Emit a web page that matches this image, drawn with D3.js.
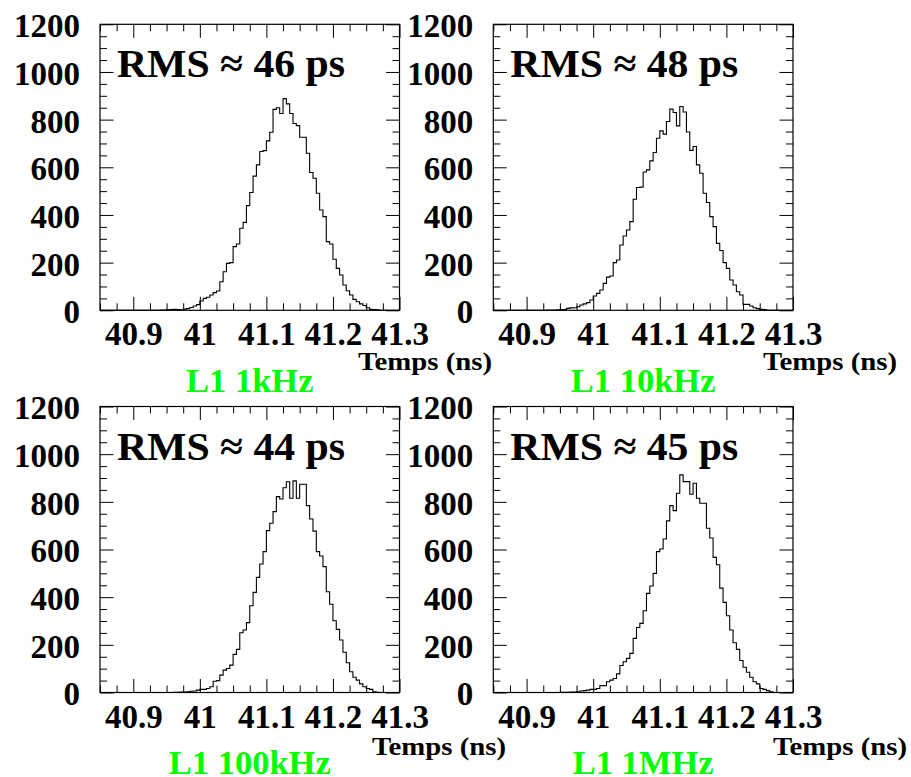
<!DOCTYPE html>
<html>
<head>
<meta charset="utf-8">
<script src="https://cdn.jsdelivr.net/npm/d3@7"></script>
<style>
  html, body { margin: 0; padding: 0; background: #fff; }
  svg { display: block; }
</style>
</head>
<body>
<script>
// ---------------- DATA ----------------
const binStart = 40.85;       // ns, lower edge of first bin
const binWidth = 0.005;       // ns
const xDomain = [40.85, 41.3];
const yDomain = [0, 1200];
const xMajorTicks = [40.9, 41.0, 41.1, 41.2, 41.3];
const yMajorTicks = [0, 200, 400, 600, 800, 1000, 1200];
const xMinorStep = 0.025;
const yMinorStep = 50;
const xAxisTitle = "Temps (ns)";
const panelLabels = ["L1 1kHz", "L1 10kHz", "L1 100kHz", "L1 1MHz"];
const rmsValues = [46, 48, 44, 45];   // ps

const counts1kHz = [
  0,0,0,0,0,0,0,0,0,0,0,0,0,0,0,0,0,0,
  1,1,2,3,4,3,2,5,7,12,18,24,39,50,55,64,74,81,120,162,197,200,
  267,278,344,369,439,494,563,610,666,670,711,747,843,850,826,888,866,826,784,775,
  726,726,659,578,554,491,421,393,288,278,214,176,148,106,82,64,46,36,27,20,
  11,4,3,2,
  0,0,0,0,0,0
];
const counts10kHz = [
  0,0,0,0,0,0,0,0,0,0,0,0,0,0,0,0,
  1,1,1,2,3,3,8,10,11,15,22,27,32,43,60,71,85,113,139,144,
  200,211,274,312,337,372,466,515,517,580,589,627,662,722,753,739,792,844,830,774,
  855,832,748,671,687,610,575,491,452,393,351,281,251,200,176,127,106,78,64,25,
  25,18,11,7,4,3,
  0,0,0,0,0,0,0,0
];
const counts100kHz = [
  0,0,0,0,0,0,0,0,0,0,0,0,0,0,0,0,0,0,0,0,0,0,
  1,1,2,2,3,5,6,10,13,13,17,24,47,50,73,94,101,115,160,181,
  251,262,293,364,420,483,539,591,679,710,759,822,812,859,884,815,888,815,874,874,
  784,728,677,591,573,528,423,370,301,265,220,169,125,87,64,52,36,24,17,13,
  3,1,
  0,0,0,0,0,0
];
const counts1MHz = [
  0,0,0,0,0,0,0,0,0,0,0,0,0,0,0,0,0,0,0,0,
  1,1,1,2,2,3,6,8,10,13,13,17,29,29,45,52,59,78,113,129,
  143,164,227,273,290,343,416,447,500,591,602,644,720,784,763,836,913,885,885,832,
  878,815,794,794,689,648,567,536,438,378,322,262,209,181,134,106,85,64,45,36,
  17,13,8,3,
  0,0,0,0,0,0
];
const seriesCounts = [counts1kHz, counts10kHz, counts100kHz, counts1MHz];

// ---------------- LAYOUT ----------------
const W = 911, H = 777;
const FONT = "'Liberation Serif', 'Times New Roman', Times, 'DejaVu Serif', serif";
const layout = [
  { x0: 100,   x1: 399.5, y0: 24.3,  y1: 310.3, titleRight: 492, titleBase: 370, labelBase: 391.7 },
  { x0: 493.3, x1: 793,   y0: 24.3,  y1: 310.3, titleRight: 897, titleBase: 370, labelBase: 391.7 },
  { x0: 100,   x1: 399.5, y0: 406.5, y1: 692.5, titleRight: 506, titleBase: 755, labelBase: 773.5 },
  { x0: 493.3, x1: 793,   y0: 406.5, y1: 692.5, titleRight: 907, titleBase: 755, labelBase: 773.5 }
];
const tickFont = 33, rmsFont = 40, labelFont = 34.5, titleFont = 26;
const rmsWidth = 228, titleWidth = 134;
const majorLen = 13.5, minorLen = 7;

const svg = d3.select("body").append("svg")
  .attr("width", W).attr("height", H)
  .attr("viewBox", `0 0 ${W} ${H}`)
  .attr("font-family", FONT);
svg.append("rect").attr("width", W).attr("height", H).attr("fill", "#fff");

const fmtX = d => String(+d.toFixed(1));
const setFont = (sel, size, color) => sel
  .style("font-family", FONT).style("font-weight", "bold")
  .attr("font-size", size).attr("fill", color);

seriesCounts.forEach((counts, i) => {
  const L = layout[i];
  const x = d3.scaleLinear().domain(xDomain).range([L.x0, L.x1]);
  const y = d3.scaleLinear().domain(yDomain).range([L.y1, L.y0]);
  const g = svg.append("g");

  const xMinor = d3.range(xDomain[0], xDomain[1] + 1e-9, xMinorStep)
    .filter(v => !xMajorTicks.some(m => Math.abs(m - v) < 1e-6));
  const yMinor = d3.range(yDomain[0], yDomain[1] + 1e-9, yMinorStep)
    .filter(v => !yMajorTicks.includes(v));

  // histogram
  const pts = counts.map((c, k) => [binStart + k * binWidth, c]);
  pts.push([binStart + counts.length * binWidth, counts[counts.length - 1]]);
  const line = d3.line()
    .x(d => x(d[0])).y(d => y(d[1]))
    .curve(d3.curveStepAfter);
  g.append("path").attr("d", line(pts))
    .attr("fill", "none").attr("stroke", "#000").attr("stroke-width", 1.1);

  const style = sel => {
    sel.select(".domain").remove();
    sel.selectAll(".tick line").attr("stroke", "#000").attr("stroke-width", 1);
  };
  // bottom major with labels
  const bx = g.append("g").attr("transform", `translate(0,${L.y1})`)
    .call(d3.axisBottom(x).tickValues(xMajorTicks).tickSizeInner(-majorLen).tickSizeOuter(0)
      .tickPadding(0).tickFormat(fmtX))
    .call(style);
  bx.attr("font-family", FONT);
  setFont(bx.selectAll(".tick text").attr("y", 35).attr("dy", null), tickFont, "#000");
  g.append("g").attr("transform", `translate(0,${L.y1})`)
    .call(d3.axisBottom(x).tickValues(xMinor).tickSizeInner(-minorLen).tickSizeOuter(0).tickFormat(""))
    .call(style);
  // top
  g.append("g").attr("transform", `translate(0,${L.y0})`)
    .call(d3.axisTop(x).tickValues(xMajorTicks).tickSizeInner(-majorLen).tickSizeOuter(0).tickFormat(""))
    .call(style);
  g.append("g").attr("transform", `translate(0,${L.y0})`)
    .call(d3.axisTop(x).tickValues(xMinor).tickSizeInner(-minorLen).tickSizeOuter(0).tickFormat(""))
    .call(style);
  // left with labels
  const ly = g.append("g").attr("transform", `translate(${L.x0},0)`)
    .call(d3.axisLeft(y).tickValues(yMajorTicks).tickSizeInner(-majorLen).tickSizeOuter(0)
      .tickPadding(0).tickFormat(d3.format("d")))
    .call(style);
  ly.attr("font-family", FONT);
  setFont(ly.selectAll(".tick text").attr("x", -20).attr("dy", null).attr("y", 12.4), tickFont, "#000");
  g.append("g").attr("transform", `translate(${L.x0},0)`)
    .call(d3.axisLeft(y).tickValues(yMinor).tickSizeInner(-minorLen).tickSizeOuter(0).tickFormat(""))
    .call(style);
  // right
  g.append("g").attr("transform", `translate(${L.x1},0)`)
    .call(d3.axisRight(y).tickValues(yMajorTicks).tickSizeInner(-majorLen).tickSizeOuter(0).tickFormat(""))
    .call(style);
  g.append("g").attr("transform", `translate(${L.x1},0)`)
    .call(d3.axisRight(y).tickValues(yMinor).tickSizeInner(-minorLen).tickSizeOuter(0).tickFormat(""))
    .call(style);

  // frame
  g.append("rect")
    .attr("x", L.x0).attr("y", L.y0)
    .attr("width", L.x1 - L.x0).attr("height", L.y1 - L.y0)
    .attr("fill", "none").attr("stroke", "#000").attr("stroke-width", 1.2);

  // RMS annotation
  setFont(g.append("text")
    .attr("x", L.x0 + 17).attr("y", L.y0 + 53)
    .attr("textLength", rmsWidth).attr("lengthAdjust", "spacingAndGlyphs")
    .text(`RMS \u2248 ${rmsValues[i]} ps`), rmsFont, "#000");

  // x-axis title
  setFont(g.append("text")
    .attr("x", L.titleRight - titleWidth).attr("y", L.titleBase)
    .attr("textLength", titleWidth).attr("lengthAdjust", "spacingAndGlyphs")
    .text(xAxisTitle), titleFont, "#000");

  // green label
  setFont(g.append("text")
    .attr("x", (L.x0 + L.x1) / 2).attr("y", L.labelBase)
    .attr("text-anchor", "middle")
    .text(panelLabels[i]), labelFont, "#00ff00");
});
</script>
</body>
</html>
